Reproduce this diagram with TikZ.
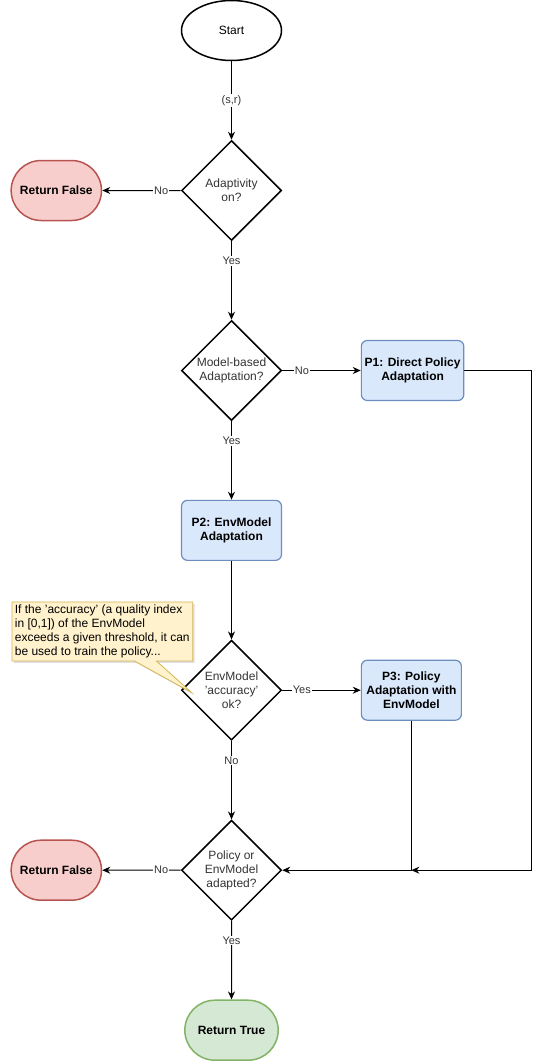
\documentclass[tikz,border=0pt]{standalone}
\usepackage{fontspec}
\setmainfont{Liberation Sans}
\usepackage{xcolor}
\usepackage{tikz}
\usetikzlibrary{shapes,shapes.callouts,arrows.meta,positioning,shadows}

\definecolor{redfill}{HTML}{F8CECC}
\definecolor{redline}{HTML}{B85450}
\definecolor{greenfill}{HTML}{D5E8D4}
\definecolor{greenline}{HTML}{82B366}
\definecolor{bluefill}{HTML}{DAE8FC}
\definecolor{blueline}{HTML}{6C8EBF}
\definecolor{notefill}{HTML}{FFF2CC}
\definecolor{noteline}{HTML}{D6B656}

\begin{document}
\begin{tikzpicture}[node distance=78.5pt,
  font=\fontsize{12}{14}\selectfont,
  >={Stealth[length=8pt,width=7pt]},
  every path/.style={line width=1pt},
  startstop/.style={ellipse,draw,line width=1.5pt,minimum width=100pt,minimum height=60pt},
  decision/.style={diamond,draw,line width=1.5pt,minimum width=100pt,minimum height=100pt,aspect=1,inner sep=0pt,align=center,text=black!80},
  process/.style={rectangle,rounded corners=6pt,draw=blueline,fill=bluefill,line width=1.2pt,minimum width=100pt,minimum height=60pt,align=center,font=\fontsize{12}{14}\selectfont\bfseries},
  retfalse/.style={rounded rectangle,draw=redline,fill=redfill,line width=1.5pt,minimum width=97pt,minimum height=60pt,font=\fontsize{12}{14}\selectfont\bfseries},
  rettrue/.style={rounded rectangle,draw=greenline,fill=greenfill,line width=1.5pt,minimum width=100pt,minimum height=60pt,font=\fontsize{12}{14}\selectfont\bfseries},
  lbl/.style={fill=white,inner sep=1pt,pos=0.25,font=\fontsize{11}{13}\selectfont,text=black!80},
  note/.style={rectangle callout,draw=noteline,fill=notefill,line width=0.8pt,inner xsep=3pt,inner ysep=2pt,minimum width=180pt,minimum height=59pt,align=left,drop shadow={shadow xshift=2pt,shadow yshift=-2pt,opacity=0.25}}]
\useasboundingbox (0,0) rectangle (540pt,-1062pt);

\node[startstop] (start) at (231.5pt,-30.5pt) {Start};
\node[decision,below=of start] (d1) {Adaptivity\\on?};
\node[retfalse,left=of d1] (rf1) {Return False};
\node[decision,below=of d1] (d2) {Model-based\\Adaptation?};
\node[process,right=of d2] (p1) {P1: Direct Policy\\Adaptation};
\node[process,below=of d2] (p2) {P2: EnvModel\\Adaptation};
\node[decision,below=of p2] (d3) {EnvModel\\'accuracy'\\ok?};
\node[process,right=of d3] (p3) {P3: Policy\\Adaptation with\\EnvModel};
\node[decision,below=of d3] (d4) {Policy or\\EnvModel\\adapted?};
\node[retfalse,left=of d4] (rf2) {Return False};
\node[rettrue,below=of d4] (rt) {Return True};
\coordinate[right=67pt of p1.east] (c1);
\coordinate (tip) at (191.5pt,-692.5pt);
\node[note,anchor=north west,callout absolute pointer={(tip)},callout pointer width=22pt] (nt) at (11.5pt,-601.5pt) {If the 'accuracy' (a quality index\\in [0,1]) of the EnvModel\\exceeds a given threshold, it can\\be used to train the policy...};

\draw[->] (start) -- node[lbl,pos=0.5] {(s,r)} (d1);
\draw[->] (d1) -- node[lbl] {No} (rf1);
\draw[->] (d1) -- node[lbl] {Yes} (d2);
\draw[->] (d2) -- node[lbl] {No} (p1);
\draw[->] (d2) -- node[lbl] {Yes} (p2);
\draw[->] (p2) -- (d3);
\draw[->] (d3) -- node[lbl] {Yes} (p3);
\draw[->] (d3) -- node[lbl] {No} (d4);
\draw[->] (p1) -- (c1) |- (p3 |- d4);
\draw[->] (p3) -- (p3 |- d4) -- (d4);
\draw[->] (d4) -- node[lbl] {No} (rf2);
\draw[->] (d4) -- node[lbl] {Yes} (rt);
\end{tikzpicture}
\end{document}
